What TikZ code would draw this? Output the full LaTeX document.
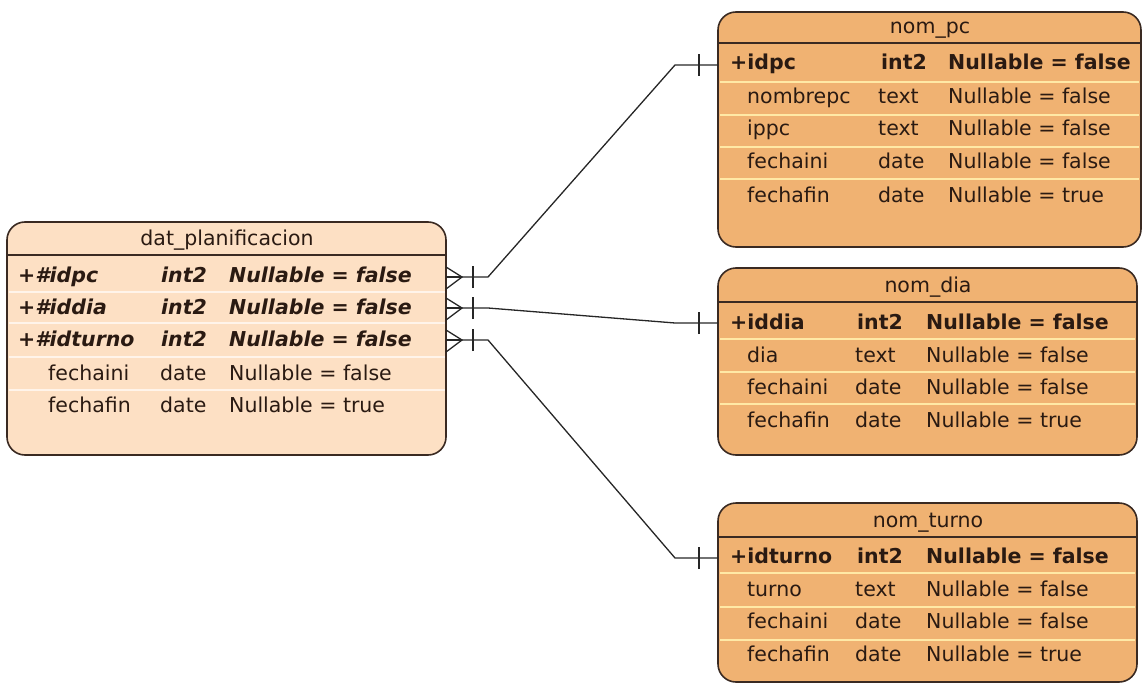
\documentclass[tikz,border=0pt]{standalone}
\usepackage{fontspec}
\setmainfont{DejaVu Sans}
\definecolor{ink}{HTML}{2A1A12}
\definecolor{edge}{HTML}{3A2A22}
\definecolor{peach}{HTML}{FDE0C4}
\definecolor{orange}{HTML}{F0B272}
\definecolor{sepwhite}{HTML}{FFF4EA}
\definecolor{sepyellow}{HTML}{FFE9A6}
\begin{document}
\begin{tikzpicture}[x=1pt,y=-1pt,
  tbl/.style={draw=edge, line width=1.6pt, rounded corners=18pt, anchor=north west,
              inner sep=0pt, outer sep=0pt},
  txt/.style={anchor=west, inner sep=0pt, text height=16pt, text depth=4pt, text=ink,
              font=\fontsize{20.5}{24}\selectfont},
  ttl/.style={txt, anchor=center},
  pk/.style={txt, font=\fontsize{20.5}{24}\selectfont\bfseries},
  fk/.style={txt, font=\fontsize{20.5}{24}\selectfont\bfseries\itshape},
  hline/.style={draw=edge, line width=1.4pt},
  sepw/.style={draw=sepwhite, line width=1.2pt},
  sepy/.style={draw=sepyellow, line width=1.2pt},
  link/.style={draw=black!85, line width=1.3pt},
]
\useasboundingbox (0,0) rectangle (1147,687);

% ---------------- dat_planificacion ----------------
\node[tbl, fill=peach, minimum width=439pt, minimum height=233pt] (dat) at (7,222) {};
\foreach \y in {292,323,357,390} \draw[sepw] (9,\y) -- (445,\y);
\draw[hline] (7,255) -- (446,255);
\node[ttl] (dat-t) at (227,239) {dat\_planificacion};
\node[fk] (dat-1a) at (18,276) {+\#idpc};
\node[fk] (dat-1b) at (161,276) {int2};
\node[fk] (dat-1c) at (229,276) {Nullable = false};
\node[fk] (dat-2a) at (18,308) {+\#iddia};
\node[fk] (dat-2b) at (161,308) {int2};
\node[fk] (dat-2c) at (229,308) {Nullable = false};
\node[fk] (dat-3a) at (18,340) {+\#idturno};
\node[fk] (dat-3b) at (161,340) {int2};
\node[fk] (dat-3c) at (229,340) {Nullable = false};
\node[txt] (dat-4a) at (48,374) {fechaini};
\node[txt] (dat-4b) at (160,374) {date};
\node[txt] (dat-4c) at (229,374) {Nullable = false};
\node[txt] (dat-5a) at (48,406) {fechafin};
\node[txt] (dat-5b) at (160,406) {date};
\node[txt] (dat-5c) at (229,406) {Nullable = true};

% ---------------- nom_pc ----------------
\node[tbl, fill=orange, minimum width=423pt, minimum height=235pt] (pc) at (718,12) {};
\foreach \y in {82,115,147,179} \draw[sepy] (720,\y) -- (1139,\y);
\draw[hline] (718,43) -- (1140,43);
\node[ttl] (pc-t) at (930,28) {nom\_pc};
\node[pk] (pc-1a) at (730,64) {+idpc};
\node[pk] (pc-1b) at (881,64) {int2};
\node[pk] (pc-1c) at (948,64) {Nullable = false};
\node[txt] (pc-2a) at (747,98) {nombrepc};
\node[txt] (pc-2b) at (878,98) {text};
\node[txt] (pc-2c) at (948,98) {Nullable = false};
\node[txt] (pc-3a) at (747,130) {ippc};
\node[txt] (pc-3b) at (878,130) {text};
\node[txt] (pc-3c) at (948,130) {Nullable = false};
\node[txt] (pc-4a) at (747,162) {fechaini};
\node[txt] (pc-4b) at (878,162) {date};
\node[txt] (pc-4c) at (948,162) {Nullable = false};
\node[txt] (pc-5a) at (747,196) {fechafin};
\node[txt] (pc-5b) at (878,196) {date};
\node[txt] (pc-5c) at (948,196) {Nullable = true};

% ---------------- nom_dia ----------------
\node[tbl, fill=orange, minimum width=419pt, minimum height=187pt] (dia) at (718,268) {};
\foreach \y in {339,372,404} \draw[sepy] (720,\y) -- (1135,\y);
\draw[hline] (718,302) -- (1136,302);
\node[ttl] (dia-t) at (928,286) {nom\_dia};
\node[pk] (dia-1a) at (730,323) {+iddia};
\node[pk] (dia-1b) at (857,323) {int2};
\node[pk] (dia-1c) at (926,323) {Nullable = false};
\node[txt] (dia-2a) at (747,356) {dia};
\node[txt] (dia-2b) at (855,356) {text};
\node[txt] (dia-2c) at (926,356) {Nullable = false};
\node[txt] (dia-3a) at (747,388) {fechaini};
\node[txt] (dia-3b) at (855,388) {date};
\node[txt] (dia-3c) at (926,388) {Nullable = false};
\node[txt] (dia-4a) at (747,421) {fechafin};
\node[txt] (dia-4b) at (855,421) {date};
\node[txt] (dia-4c) at (926,421) {Nullable = true};

% ---------------- nom_turno ----------------
\node[tbl, fill=orange, minimum width=419pt, minimum height=179pt] (tur) at (718,503) {};
\foreach \y in {573,607,640} \draw[sepy] (720,\y) -- (1135,\y);
\draw[hline] (718,537) -- (1136,537);
\node[ttl] (tur-t) at (928,521) {nom\_turno};
\node[pk] (tur-1a) at (730,557) {+idturno};
\node[pk] (tur-1b) at (857,557) {int2};
\node[pk] (tur-1c) at (926,557) {Nullable = false};
\node[txt] (tur-2a) at (747,590) {turno};
\node[txt] (tur-2b) at (855,590) {text};
\node[txt] (tur-2c) at (926,590) {Nullable = false};
\node[txt] (tur-3a) at (747,622) {fechaini};
\node[txt] (tur-3b) at (855,622) {date};
\node[txt] (tur-3c) at (926,622) {Nullable = false};
\node[txt] (tur-4a) at (747,655) {fechafin};
\node[txt] (tur-4b) at (855,655) {date};
\node[txt] (tur-4c) at (926,655) {Nullable = true};

% ---------------- relationship ends ----------------
\coordinate (m1) at (dat.east |- 0,277);
\coordinate (m2) at (dat.east |- 0,308);
\coordinate (m3) at (dat.east |- 0,340);
\coordinate (o1) at (pc.west |- 0,65);
\coordinate (o2) at (dia.west |- 0,323);
\coordinate (o3) at (tur.west |- 0,558);

% many side: crow's foot plus bar, then the connector
\foreach \m/\o in {m1/o1, m2/o2, m3/o3} {
  \draw[link] ([yshift=-12pt]\m) -- ([xshift=16pt]\m) -- ([yshift=10pt]\m);
  \draw[link] (\m) -- ([xshift=16pt]\m);
  \draw[link] ([xshift=27pt,yshift=-11pt]\m) -- ([xshift=27pt,yshift=11pt]\m);
  \draw[link] (\m) -- ([xshift=42pt]\m) -- ([xshift=-43pt]\o) -- (\o);
  \draw[link] ([xshift=-19pt,yshift=-11pt]\o) -- ([xshift=-19pt,yshift=11pt]\o);
}
\end{tikzpicture}
\end{document}
